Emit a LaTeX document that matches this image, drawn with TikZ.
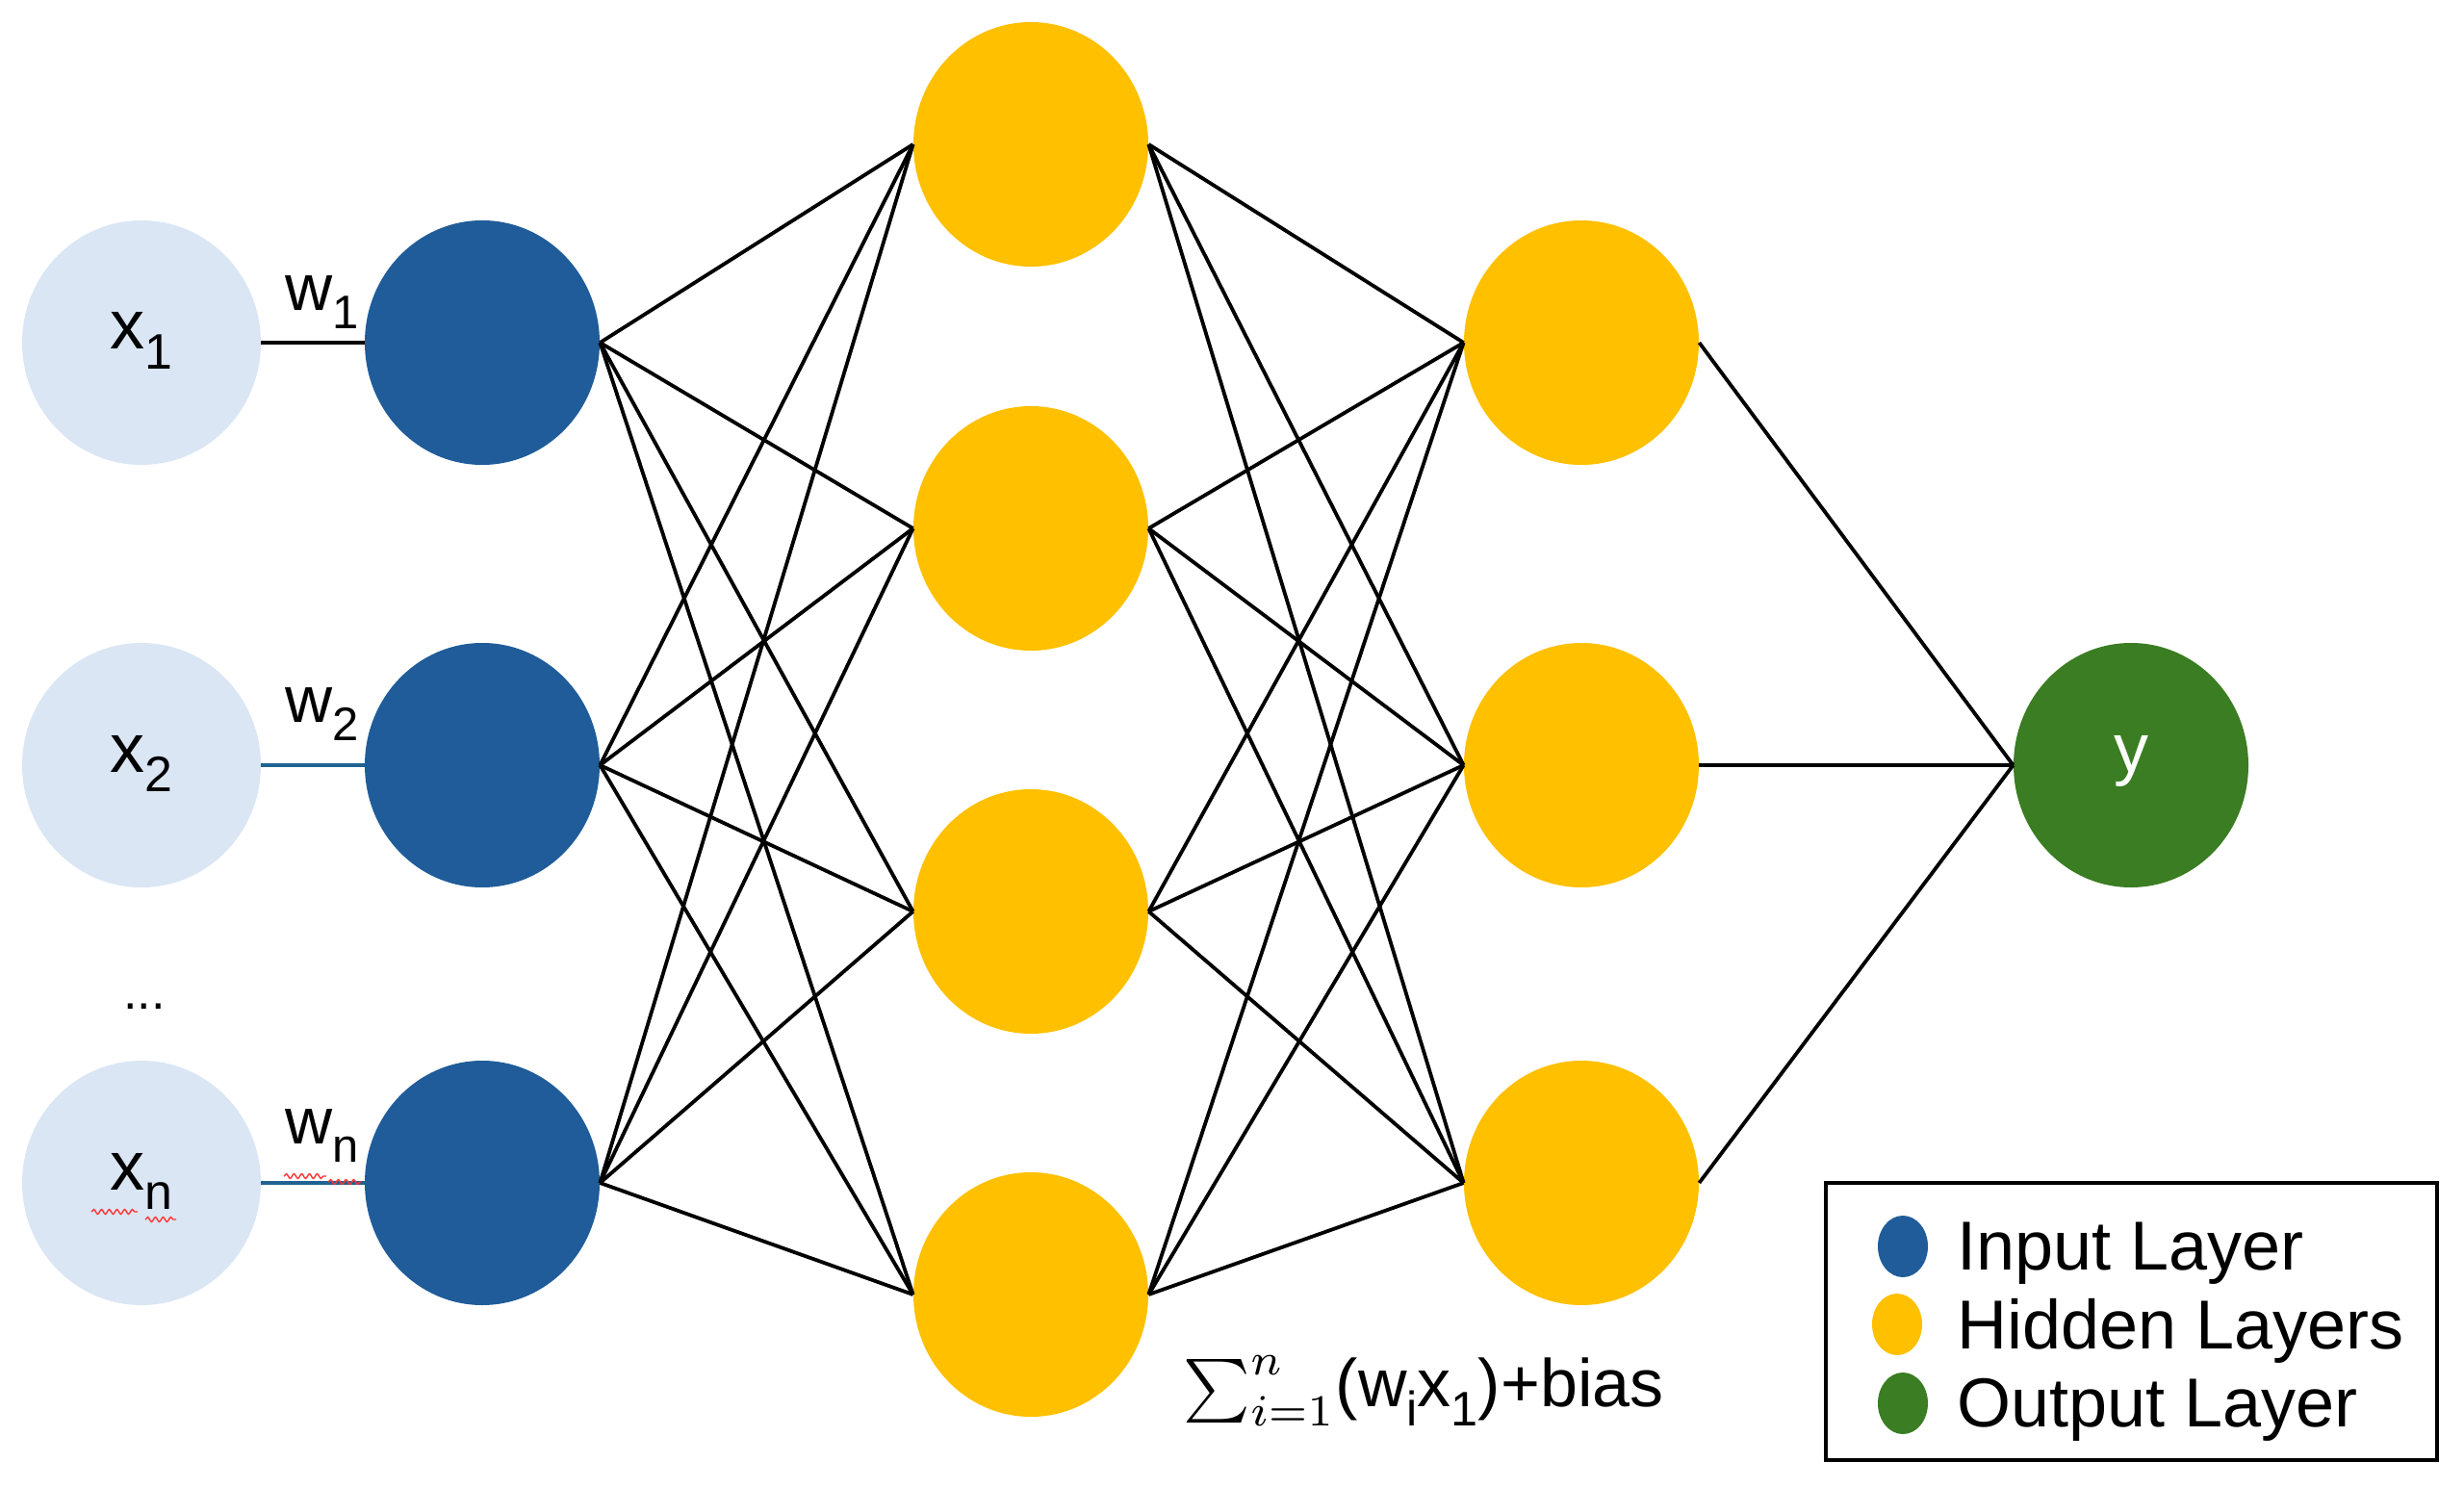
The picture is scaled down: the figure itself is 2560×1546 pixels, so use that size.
\documentclass[tikz,border=0pt]{standalone}
\usepackage{fontspec}
\setmainfont{Liberation Sans}
\usetikzlibrary{shapes.geometric,decorations.pathmorphing}
\definecolor{lightin}{HTML}{DAE6F4}
\definecolor{inblue}{HTML}{1F5C99}
\definecolor{hidyel}{HTML}{FFC000}
\definecolor{outgreen}{HTML}{3A7D22}
\definecolor{linkblue}{HTML}{1F6391}
\newcommand\sbs[1]{\raisebox{-0.28em}{\scalebox{0.72}{#1}}}
\begin{document}
\begin{tikzpicture}[x=0.5pt,y=-0.5pt,
  neuron/.style={ellipse,inner sep=0pt,minimum width=122pt,minimum height=127pt,
    font=\fontsize{36}{40}\selectfont,text height=0.7em,text depth=0pt},
  innode/.style={neuron,fill=lightin,minimum width=124pt},
  inputn/.style={neuron,fill=inblue},
  hidn/.style={neuron,fill=hidyel},
  outn/.style={neuron,fill=outgreen,text=white},
  wlabel/.style={inner sep=0pt,font=\fontsize{34}{38}\selectfont},
  link/.style={line width=1.9pt,black},
  wavy/.style={red!80,line width=0.7pt,decorate,decoration={snake,amplitude=1.2pt,segment length=4pt}},
  keydot/.style={ellipse,inner sep=0pt,minimum width=26pt,minimum height=32pt},
  keytext/.style={anchor=base west,inner sep=0pt,font=\fontsize{36}{40}\selectfont},
]
\useasboundingbox (0,0) rectangle (2560,1546);

% input values
\node[innode] (x1) at (147,356) {x\sbs{1}};
\node[innode] (x2) at (147,795) {x\sbs{2}};
\node[innode] (xn) at (147,1229) {x\sbs{n}};
\node[inner sep=0pt,font=\fontsize{26}{30}\selectfont] (dots) at (150,1046) {...};

% input layer
\node[inputn] (a1) at (501,356) {};
\node[inputn] (a2) at (501,795) {};
\node[inputn] (a3) at (501,1229) {};

% hidden layer 1
\node[hidn] (h1) at (1071,150) {};
\node[hidn] (h2) at (1071,549) {};
\node[hidn] (h3) at (1071,947) {};
\node[hidn] (h4) at (1071,1345) {};

% hidden layer 2
\node[hidn] (g1) at (1643,356) {};
\node[hidn] (g2) at (1643,795) {};
\node[hidn] (g3) at (1643,1229) {};

% output
\node[outn] (o) at (2214,795) {y};

% weights
\node[wlabel] (w1) at (335,314) {w\sbs{1}};
\node[wlabel] (w2) at (335,742) {w\sbs{2}};
\node[wlabel] (wn) at (335,1180) {w\sbs{n}};
\draw[link,line width=2.2pt] (x1.east) -- (a1.west);
\draw[link,linkblue] (x2.east) -- (a2.west);
\draw[link,linkblue] (xn.east) -- (a3.west);

% spell-check underlines
\draw[wavy] ([xshift=-26pt,yshift=-15pt]xn.center) -- ([xshift=-2pt,yshift=-15pt]xn.center);
\draw[wavy] ([xshift=2pt,yshift=-19pt]xn.center) -- ([xshift=18pt,yshift=-19pt]xn.center);
\draw[wavy] ([xshift=-20pt,yshift=-21pt]wn.center) -- ([xshift=2pt,yshift=-21pt]wn.center);
\draw[wavy] ([xshift=3pt,yshift=-24pt]wn.center) -- ([xshift=20pt,yshift=-24pt]wn.center);

% connections
\foreach \a in {a1,a2,a3}
  \foreach \h in {h1,h2,h3,h4}
    \draw[link] (\a.east) -- (\h.west);
\foreach \h in {h1,h2,h3,h4}
  \foreach \g in {g1,g2,g3}
    \draw[link] (\h.east) -- (\g.west);
\foreach \g in {g1,g2,g3}
  \draw[link] (\g.east) -- (o.west);

% formula
\node[inner sep=0pt,font=\fontsize{35}{40}\selectfont] (f) at (1479,1445)
  {\scalebox{3.3}{\normalsize$\sum_{i=1}^{n}$}(w\sbs{i}x\sbs{1})+bias};

% legend
\node[draw,line width=2pt,inner sep=0pt,minimum width=317.5pt,minimum height=144pt] (legend) at (2214.5,1373) {};
\node[keydot,fill=inblue] (k1) at (1977,1295) {};
\node[keydot,fill=hidyel] (k2) at (1971,1376) {};
\node[keydot,fill=outgreen] (k3) at (1977,1458) {};
\node[keytext] (t1) at (2033,1319) {Input Layer};
\node[keytext] (t2) at (2033,1401) {Hidden Layers};
\node[keytext] (t3) at (2033,1482) {Output Layer};
\end{tikzpicture}
\end{document}
